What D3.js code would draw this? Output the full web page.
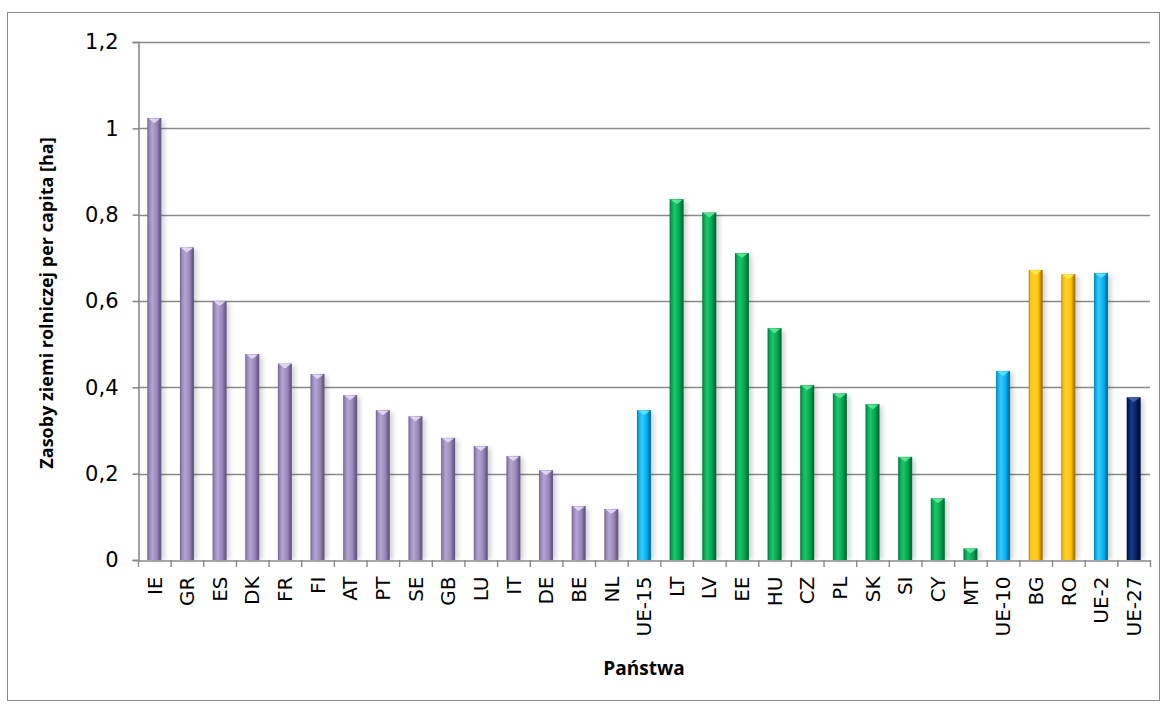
<!DOCTYPE html>
<html>
<head>
<meta charset="utf-8">
<script src="https://cdn.jsdelivr.net/npm/d3@7"></script>
<style>
  html, body { margin: 0; padding: 0; background: #fff; }
  svg { display: block; }
</style>
</head>
<body>
<svg id="chart" width="1166" height="709"></svg>
<script>
// Agricultural land resources per capita [ha]
const countries = ["IE","GR","ES","DK","FR","FI","AT","PT","SE","GB","LU","IT","DE","BE","NL",
  "UE-15","LT","LV","EE","HU","CZ","PL","SK","SI","CY","MT","UE-10","BG","RO","UE-2","UE-27"];
const values = [1.024,0.724,0.600,0.477,0.455,0.431,0.382,0.347,0.333,0.283,0.264,0.241,0.208,0.125,0.118,
  0.347,0.836,0.805,0.711,0.537,0.405,0.386,0.361,0.239,0.143,0.027,0.438,0.672,0.662,0.665,0.377];
const groups = ["old","old","old","old","old","old","old","old","old","old","old","old","old","old","old",
  "agg","new","new","new","new","new","new","new","new","new","new","agg","rec","rec","agg","eu"];
const yTicks = [0, 0.2, 0.4, 0.6, 0.8, 1, 1.2];

// group palettes: [edge, body, highlight, cap]
const palette = {
  old: ["#6a5a88", "#9585b8", "#b3a6d2", "#e6dcf6"],
  new: ["#00703a", "#00a550", "#1fc46a", "#5ee898"],
  agg: ["#0077a8", "#00b0f0", "#3cc8f8", "#5fe4ff"],
  rec: ["#a87c00", "#ffc000", "#ffd23c", "#fff050"],
  eu:  ["#000f3a", "#002060", "#1c3d82", "#4868b0"]
};

const svg = d3.select("#chart");
const m = { left: 138, right: 1150, top: 42, bottom: 560 };
const gridColor = "#8a8a8a";

// outer frame
svg.append("rect").attr("x", 7.5).attr("y", 12.5).attr("width", 1152).attr("height", 688)
  .attr("fill", "#fff").attr("stroke", "#8c8c8c").attr("stroke-width", 1);

const x = d3.scaleBand().domain(countries).range([m.left, m.right]).paddingInner(0).paddingOuter(0);
const y = d3.scaleLinear().domain([0, 1.2]).range([m.bottom, m.top]);

const defs = svg.append("defs");
Object.entries(palette).forEach(([k, c]) => {
  const g = defs.append("linearGradient").attr("id", "grad-" + k)
    .attr("x1", "0%").attr("x2", "100%").attr("y1", "0%").attr("y2", "0%");
  [[0, c[0]], [0.12, c[1]], [0.35, c[2]], [0.7, c[1]], [0.9, c[0]], [1, c[0]]]
    .forEach(([o, col]) => g.append("stop").attr("offset", o).attr("stop-color", col));
});
const blur = defs.append("filter").attr("id", "shadow").attr("x", "-50%").attr("y", "-10%")
  .attr("width", "200%").attr("height", "120%");
blur.append("feGaussianBlur").attr("stdDeviation", 2.5);

// gridlines
svg.append("g").selectAll("line").data(yTicks.filter(d => d > 0)).join("line")
  .attr("x1", m.left).attr("x2", m.right)
  .attr("y1", d => Math.round(y(d)) + 0.5).attr("y2", d => Math.round(y(d)) + 0.5)
  .attr("stroke", gridColor).attr("stroke-width", 1.6);

// y axis
const yAxis = svg.append("g").attr("transform", `translate(${m.left + 0.5},0)`)
  .call(d3.axisLeft(y).tickValues(yTicks).tickSize(6).tickPadding(14)
    .tickFormat(d => String(d).replace(".", ",")));
yAxis.select(".domain").attr("stroke", gridColor).attr("stroke-width", 1.6);
yAxis.selectAll(".tick line").attr("stroke", gridColor).attr("stroke-width", 1.6);
yAxis.selectAll(".tick text").attr("font-family", "'DejaVu Sans', sans-serif")
  .attr("font-size", 21).attr("fill", "#000");

const bw = 14;
const bars = svg.append("g");
// soft shadows
bars.selectAll("rect.sh").data(countries).join("rect").attr("class", "sh")
  .attr("x", d => x(d) + x.bandwidth() / 2 - bw / 2 + 3)
  .attr("y", (d, i) => y(values[i]) + 2)
  .attr("width", bw).attr("height", (d, i) => y(0) - y(values[i]) - 2)
  .attr("fill", "#000").attr("opacity", 0.18).attr("filter", "url(#shadow)");
// bars
bars.selectAll("rect.bar").data(countries).join("rect").attr("class", "bar")
  .attr("x", d => x(d) + x.bandwidth() / 2 - bw / 2)
  .attr("y", (d, i) => y(values[i]))
  .attr("width", bw).attr("height", (d, i) => y(0) - y(values[i]))
  .attr("fill", (d, i) => `url(#grad-${groups[i]})`);
// bevel cap
bars.selectAll("path.cap").data(countries).join("path").attr("class", "cap")
  .attr("d", (d, i) => {
    const cx = x(d) + x.bandwidth() / 2, t = y(values[i]);
    return `M${cx - bw / 2 + 1},${t + 0.5} L${cx + bw / 2 - 1},${t + 0.5} L${cx},${t + 5} Z`;
  })
  .attr("fill", (d, i) => palette[groups[i]][3]).attr("opacity", 0.9);

// x axis
const xAxis = svg.append("g").attr("transform", `translate(0,${Math.round(y(0)) + 0.5})`)
  .call(d3.axisBottom(x).tickSize(0).tickPadding(0));
xAxis.select(".domain").attr("stroke", gridColor).attr("stroke-width", 1.6);
xAxis.selectAll(".tick text")
  .attr("font-family", "'DejaVu Sans', sans-serif").attr("font-size", 20).attr("fill", "#000")
  .attr("transform", "rotate(-90)").attr("text-anchor", "end")
  .attr("x", -16).attr("y", 0).attr("dy", "0.36em");
// category separators
svg.append("g").selectAll("line").data(d3.range(countries.length + 1)).join("line")
  .attr("x1", i => m.left + i * x.step() + 0.5).attr("x2", i => m.left + i * x.step() + 0.5)
  .attr("y1", Math.round(y(0))).attr("y2", Math.round(y(0)) + 7)
  .attr("stroke", gridColor).attr("stroke-width", 1.4);

// titles
svg.append("text").attr("transform", `translate(53,303) rotate(-90)`)
  .attr("text-anchor", "middle").attr("font-family", "'Open Sans', sans-serif")
  .attr("font-weight", "bold").attr("font-size", 18).attr("fill", "#000")
  .text("Zasoby ziemi rolniczej per capita [ha]");
svg.append("text").attr("x", (m.left + m.right) / 2).attr("y", 675)
  .attr("text-anchor", "middle").attr("font-family", "'Open Sans', sans-serif")
  .attr("font-weight", "bold").attr("font-size", 19).attr("fill", "#000")
  .text("Państwa");
</script>
</body>
</html>
